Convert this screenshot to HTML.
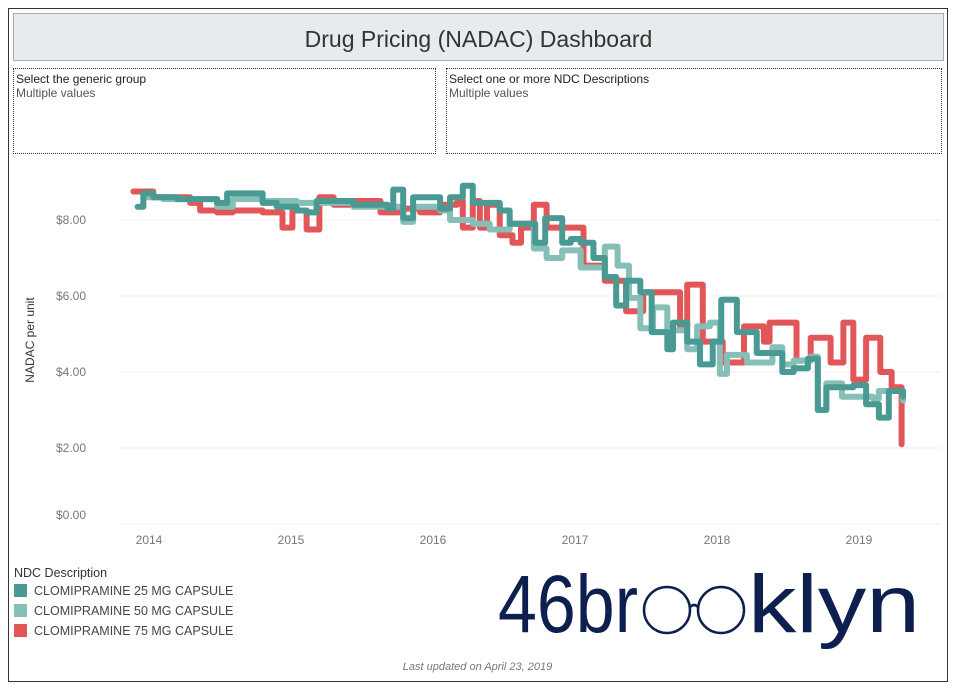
<!DOCTYPE html>
<html><head><meta charset="utf-8"><style>
body{margin:0;width:955px;height:689px;background:#fff;font-family:"Liberation Sans",sans-serif;position:relative;overflow:hidden}
.abs{position:absolute}
</style></head><body>
<div class="abs" style="left:8px;top:8px;width:938px;height:672px;border:1px solid #333"></div>
<div class="abs" style="left:13px;top:13px;width:929px;height:46px;background:#e6ebee;border:1px solid #a8adb0;text-align:center;line-height:50px;font-size:23px;color:#333">Drug Pricing (NADAC) Dashboard</div>
<div class="abs" style="left:13px;top:68px;width:423px;height:86px;border:1px dotted #333;font-size:12px;color:#222;padding:3px 2px;box-sizing:border-box">Select the generic group<div style="color:#555">Multiple values</div></div>
<div class="abs" style="left:446px;top:68px;width:496px;height:86px;border:1px dotted #333;font-size:12px;color:#222;padding:3px 2px;box-sizing:border-box">Select one or more NDC Descriptions<div style="color:#555">Multiple values</div></div>
<svg class="abs" style="left:0;top:0" width="955" height="689" id="chart">
<text x="34" y="340" transform="rotate(-90 34 340)" text-anchor="middle" font-size="12" fill="#333">NADAC per unit</text>
</svg>
<div class="abs" style="left:14px;top:566px;font-size:12.5px;color:#444">
<div style="color:#333;margin-bottom:3px">NDC Description</div>
<div style="height:20px;line-height:16px"><span style="display:inline-block;width:13px;height:13px;background:#4a9a94;vertical-align:-2px;margin-right:7px"></span>CLOMIPRAMINE 25 MG CAPSULE</div>
<div style="height:20px;line-height:16px"><span style="display:inline-block;width:13px;height:13px;background:#86bfb7;vertical-align:-2px;margin-right:7px"></span>CLOMIPRAMINE 50 MG CAPSULE</div>
<div style="height:20px;line-height:16px"><span style="display:inline-block;width:13px;height:13px;background:#e15759;vertical-align:-2px;margin-right:7px"></span>CLOMIPRAMINE 75 MG CAPSULE</div>
</div>
<svg class="abs" style="left:495px;top:565px" width="430" height="85">
<text x="3" y="67" font-size="82" fill="#0c1f4f" font-family="Liberation Sans,sans-serif" textLength="140" lengthAdjust="spacingAndGlyphs">46br</text>
<circle cx="172" cy="45" r="23" fill="none" stroke="#0c1f4f" stroke-width="2.5"/>
<circle cx="226" cy="45" r="23" fill="none" stroke="#0c1f4f" stroke-width="2.5"/>
<path d="M195 42 Q199 38 203 42" fill="none" stroke="#0c1f4f" stroke-width="2.5"/>
<text x="253" y="67" font-size="82" fill="#0c1f4f" font-family="Liberation Sans,sans-serif" textLength="172" lengthAdjust="spacingAndGlyphs">klyn</text>
</svg>
<div class="abs" style="left:0;width:955px;top:661px;text-align:center;font-size:11px;font-style:italic;color:#777">Last updated on April 23, 2019</div>
<script>
const yTicks=[0,2,4,6,8];
const yTickLabels=["$0.00","$2.00","$4.00","$6.00","$8.00"];
const xTicks=[2014,2015,2016,2017,2018,2019];
const dates75=[2013.89,2014.03,2014.29,2014.36,2014.48,2014.59,2014.80,2014.94,2015.01,2015.11,2015.20,2015.30,2015.44,2015.63,2015.79,2015.91,2016.05,2016.17,2016.21,2016.28,2016.33,2016.38,2016.47,2016.56,2016.62,2016.71,2016.80,2017.06,2017.21,2017.36,2017.48,2017.74,2017.79,2017.90,2018.04,2018.19,2018.33,2018.37,2018.56,2018.66,2018.80,2018.89,2018.96,2019.05,2019.15,2019.23,2019.30];
const values75=[8.75,8.6,8.45,8.25,8.2,8.25,8.2,7.8,8.25,7.75,8.6,8.4,8.5,8.2,8.3,8.2,8.4,8.5,7.8,8.5,7.8,8.4,7.6,7.4,7.8,8.4,7.8,6.8,6.4,5.6,6.1,5.2,6.3,4.8,4.25,5.2,4.8,5.3,4.3,4.9,4.25,5.3,3.8,4.9,4.0,3.6,2.1];
const dates50=[2013.96,2014.10,2014.48,2014.59,2014.80,2015.04,2015.44,2015.79,2015.86,2016.05,2016.12,2016.28,2016.40,2016.54,2016.71,2016.80,2016.91,2017.04,2017.21,2017.30,2017.38,2017.46,2017.55,2017.65,2017.79,2017.86,2017.95,2018.02,2018.07,2018.21,2018.39,2018.46,2018.54,2018.66,2018.71,2018.77,2018.88,2019.10,2019.14,2019.24,2019.31];
const values50=[8.6,8.55,8.35,8.55,8.5,8.45,8.35,7.95,8.35,8.25,8.0,7.9,7.75,7.9,7.25,7.0,7.2,6.75,7.3,6.8,5.95,5.15,5.7,5.1,4.6,5.2,5.3,3.95,4.45,4.25,4.65,4.2,4.3,4.4,3.0,3.7,3.35,3.3,3.5,3.5,3.25];
const dates25=[2013.92,2013.96,2014.03,2014.20,2014.48,2014.55,2014.80,2014.90,2015.04,2015.11,2015.18,2015.44,2015.68,2015.72,2015.79,2015.86,2016.05,2016.12,2016.21,2016.28,2016.33,2016.47,2016.54,2016.72,2016.79,2016.91,2016.97,2017.04,2017.13,2017.21,2017.29,2017.36,2017.46,2017.54,2017.65,2017.69,2017.79,2017.88,2017.97,2018.03,2018.14,2018.28,2018.46,2018.54,2018.64,2018.71,2018.77,2018.96,2019.05,2019.14,2019.21,2019.31];
const values25=[8.35,8.7,8.6,8.55,8.45,8.7,8.45,8.35,8.25,8.2,8.5,8.4,8.3,8.8,8.05,8.6,8.3,8.6,8.9,8.45,8.45,8.25,7.9,7.4,8.05,7.4,7.5,7.4,7.0,6.5,5.75,6.4,6.1,5.05,4.6,5.3,4.8,4.2,4.8,5.9,5.05,4.5,4.0,4.1,4.35,3.0,3.6,3.65,3.15,2.8,3.5,3.35];
const NS="http://www.w3.org/2000/svg";
const svg=document.getElementById('chart');
function xs(d){return 149+(d-2014)*142;}
function ys(v){return 524-v*38;}
yTicks.forEach((t,i)=>{
  const g=document.createElementNS(NS,'line');
  
  
  g.setAttribute('x1',120);g.setAttribute('x2',940);g.setAttribute('y1',ys(t));g.setAttribute('y2',ys(t));
  g.setAttribute('stroke','#ececec');g.setAttribute('stroke-width',1);
  svg.appendChild(g);
  const l=document.createElementNS(NS,'text');
  
  
  l.setAttribute('x',86);l.setAttribute('y',Math.min(ys(t),515)+4);l.setAttribute('text-anchor','end');
  l.setAttribute('font-size','12');l.setAttribute('fill','#777');l.textContent=yTickLabels[i];
  svg.appendChild(l);
});
xTicks.forEach(t=>{
  const l=document.createElementNS(NS,'text');
  
  
  l.setAttribute('x',xs(t));l.setAttribute('y',544);l.setAttribute('text-anchor','middle');
  l.setAttribute('font-size','12');l.setAttribute('fill','#777');l.textContent=t;
  svg.appendChild(l);
});
function step(dates,vals,end){
  let d='M'+xs(dates[0])+' '+ys(vals[0]);
  for(let i=1;i<dates.length;i++){d+=' H'+xs(dates[i])+' V'+ys(vals[i]);}
  d+=' H'+xs(end);
  return d;
}
[[dates75,values75,'#e15759','series-75mg-line'],[dates50,values50,'#86bfb7','series-50mg-line'],[dates25,values25,'#4a9a94','series-25mg-line']].forEach(s=>{
  const p=document.createElementNS(NS,'path');
  
  
  p.setAttribute('d',step(s[0],s[1],s[0][s[0].length-1]));
  p.setAttribute('fill','none');p.setAttribute('stroke',s[2]);p.setAttribute('stroke-width',6);
  p.setAttribute('stroke-linejoin','round');p.setAttribute('stroke-linecap','round');
  svg.appendChild(p);
});
</script>
</body></html>
